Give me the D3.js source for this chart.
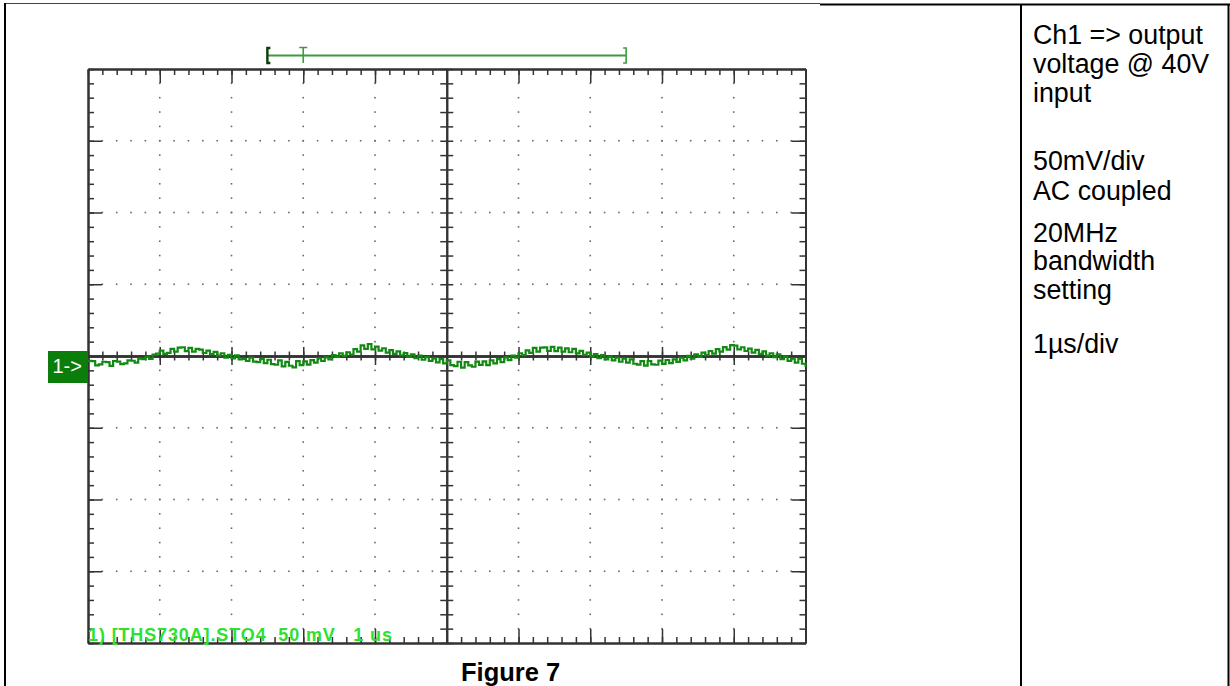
<!DOCTYPE html>
<html>
<head>
<meta charset="utf-8">
<script src="https://cdn.jsdelivr.net/npm/d3@7"></script>
<style>
  html, body { margin: 0; padding: 0; background: #fff; }
  svg { display: block; }
  text { font-family: "Liberation Sans", Arial, sans-serif; }
</style>
</head>
<body>
<svg id="chart" width="1230" height="686"></svg>
<script>
// ---- Data -------------------------------------------------------------
// Channel 1 output ripple, mV (AC coupled), sampled every 0.05 µs over 10 µs
const sampleStepUs = 0.05;
const ch1Millivolts = [
  -3.4,-3.6,-6.5,-5.8,-4.0,-4.3,-6.9,-3.5,-3.9,-5.6,
  -5.2,-3.0,-3.3,-4.6,-1.8,-2.2,-0.6,-2.1,0.9,1.7,
  3.8,1.5,2.2,5.0,3.1,5.9,6.1,3.4,5.6,3.0,
  4.9,4.4,2.1,3.8,1.3,2.9,0.2,1.9,-1.2,0.8,
  -1.7,0.4,-2.4,-2.0,-3.5,-1.1,-3.9,-4.2,-2.0,-5.0,
  -2.6,-5.6,-6.1,-3.0,-7.2,-4.1,-6.8,-7.9,-3.6,-6.3,
  -3.8,-6.0,-2.9,-4.6,-1.6,-3.5,-0.9,-2.3,0.6,-0.7,
  1.9,0.1,2.6,0.9,4.8,3.0,7.4,5.0,8.3,4.6,
  6.6,3.7,5.4,2.4,4.1,1.5,3.2,0.4,2.0,-0.6,
  1.2,-1.5,0.2,-2.6,-0.8,-3.4,-1.6,-4.5,-2.2,-5.1,
  -3.0,-6.4,-7.0,-4.0,-8.1,-4.3,-6.6,-7.5,-3.9,-6.2,
  -3.8,-6.3,-3.0,-5.1,-2.2,-4.3,-1.0,-2.9,0.3,-1.2,
  1.9,0.6,3.9,2.2,5.6,3.1,5.8,6.0,3.5,6.3,
  3.4,5.9,3.0,5.3,2.6,4.9,1.8,3.6,0.8,2.4,
  -0.4,1.3,-1.5,0.6,-2.3,-0.4,-3.1,-1.2,-4.0,-1.8,
  -4.6,-2.4,-5.4,-6.0,-3.6,-6.7,-3.5,-5.9,-6.1,-3.2,
  -5.5,-2.8,-4.9,-2.4,-4.1,-1.1,-3.0,0.1,-1.9,1.1,
  -0.7,2.3,0.6,3.5,1.7,4.8,3.1,6.2,4.4,7.6,
  7.2,4.6,6.1,3.5,5.2,2.4,4.3,1.5,3.2,0.3,
  1.9,-0.8,1.1,-2.2,-0.4,-3.4,-1.8,-4.6,-2.1,-5.4,
  -7.5
];

// Screen settings: 10 horizontal divisions of 1 µs, 8 vertical of 50 mV
const timeDivisions = [0,1,2,3,4,5,6,7,8,9,10];          // µs
const voltDivisions = [-200,-150,-100,-50,0,50,100,150,200]; // mV
const subdivisions = 5;

// Acquisition window bracket and trigger position (µs)
const windowStartUs = 2.5;
const triggerUs = 3.0;
const windowEndUs = 7.5;

const channelMarker = "1->";
const statusLine = "1) [THS730A].STO4  50 mV   1 us";
const caption = "Figure 7";
const notes = [
  ["Ch1 => output", "voltage @ 40V", "input"],
  ["50mV/div", "AC coupled"],
  ["20MHz", "bandwidth", "setting"],
  ["1\u00b5s/div"]
];

// ---- Layout -----------------------------------------------------------
const svg = d3.select("#chart");
const plot = { left: 88, right: 805.5, top: 69, bottom: 643 };
const ink = "#333";

const x = d3.scaleLinear().domain([0, 10]).range([plot.left, plot.right]);
const y = d3.scaleLinear().domain([-200, 200]).range([plot.bottom, plot.top]);

const xStep = 1 / subdivisions;
const yStep = 50 / subdivisions;
const xMinor = d3.range(0, 10 * subdivisions + 1).map(i => i * xStep);
const yMinor = d3.range(0, 8 * subdivisions + 1).map(i => -200 + i * yStep);
const xInner = timeDivisions.slice(1, -1);
const yInner = voltDivisions.slice(1, -1);

// ---- Page frame -------------------------------------------------------
const frame = svg.append("g").attr("stroke", "#000").attr("fill", "none");
frame.append("line").attr("x1", 4).attr("x2", 820).attr("y1", 3.5).attr("y2", 3.5)
  .attr("stroke", "#444").attr("stroke-width", 1);
frame.append("line").attr("x1", 820).attr("x2", 1230).attr("y1", 4.5).attr("y2", 4.5)
  .attr("stroke-width", 2);
frame.append("line").attr("x1", 5).attr("x2", 5).attr("y1", 3).attr("y2", 686)
  .attr("stroke-width", 2);
frame.append("line").attr("x1", 1021).attr("x2", 1021).attr("y1", 4).attr("y2", 686)
  .attr("stroke-width", 2);
frame.append("line").attr("x1", 1228.5).attr("x2", 1228.5).attr("y1", 4).attr("y2", 686)
  .attr("stroke-width", 2);

// ---- Dotted graticule -------------------------------------------------
const dots = svg.append("g").attr("fill", "#6a6a6a");
xInner.filter(t => t !== 5).forEach(t => {
  dots.selectAll(null).data(yMinor.slice(1, -1)).join("rect")
    .attr("x", x(t) - 0.8).attr("y", d => y(d) - 0.8)
    .attr("width", 1.6).attr("height", 1.6);
});
yInner.filter(v => v !== 0).forEach(v => {
  dots.selectAll(null).data(xMinor.slice(1, -1)).join("rect")
    .attr("x", d => x(d) - 0.8).attr("y", y(v) - 0.8)
    .attr("width", 1.6).attr("height", 1.6);
});

// ---- Axes: screen edges and centre cross -----------------------------
function styleAxis(g, domainWidth) {
  g.selectAll(".domain").attr("stroke", ink).attr("stroke-width", domainWidth);
  g.selectAll(".tick line").attr("stroke", ink).attr("stroke-width", 1.5);
  g.selectAll(".tick text").remove();
}
function addAxis(axisFn, scale, values, size, tx, ty, domainWidth) {
  const g = svg.append("g").attr("transform", `translate(${tx},${ty})`)
    .call(axisFn(scale).tickValues(values).tickSize(size).tickSizeOuter(0).tickFormat(""));
  styleAxis(g, domainWidth);
  return g;
}

// edges: minor ticks pointing inward, longer ticks at each division
addAxis(d3.axisBottom, x, xMinor, 6, 0, plot.top, 2);
addAxis(d3.axisBottom, x, xInner, 14, 0, plot.top, 2);
addAxis(d3.axisTop, x, xMinor, 6, 0, plot.bottom, 2);
addAxis(d3.axisTop, x, xInner, 14, 0, plot.bottom, 2);
addAxis(d3.axisRight, y, yMinor, 6, plot.left, 0, 2);
addAxis(d3.axisRight, y, yInner, 14, plot.left, 0, 2);
addAxis(d3.axisLeft, y, yMinor, 6, plot.right, 0, 2);
addAxis(d3.axisLeft, y, yInner, 14, plot.right, 0, 2);

// centre cross: ticks on both sides
addAxis(d3.axisBottom, x, xMinor, 4.5, 0, y(0), 2);
addAxis(d3.axisTop, x, xMinor, 4.5, 0, y(0), 2);
addAxis(d3.axisBottom, x, xInner, 9, 0, y(0), 2);
addAxis(d3.axisTop, x, xInner, 9, 0, y(0), 2);
addAxis(d3.axisRight, y, yMinor, 6.5, x(5), 0, 2);
addAxis(d3.axisLeft, y, yMinor, 6.5, x(5), 0, 2);

// ---- Acquisition window bracket --------------------------------------
const by = 55.5, bh = 7.5;
const bracket = svg.append("g").attr("fill", "none");
bracket.append("line").attr("x1", x(windowStartUs)).attr("x2", x(windowEndUs))
  .attr("y1", by).attr("y2", by).attr("stroke", "#3c9c3c").attr("stroke-width", 2);
bracket.append("path")
  .attr("d", `M${x(windowStartUs) + 3},${by - bh}H${x(windowStartUs)}V${by + bh}H${x(windowStartUs) + 3}`)
  .attr("stroke", "#0d3d0d").attr("stroke-width", 2.4);
bracket.append("path")
  .attr("d", `M${x(windowEndUs) - 3},${by - bh}H${x(windowEndUs)}V${by + bh}H${x(windowEndUs) - 3}`)
  .attr("stroke", "#3c9c3c").attr("stroke-width", 1.6);
bracket.append("path")
  .attr("d", `M${x(triggerUs) - 4},${by - bh - 0.5}H${x(triggerUs) + 4}M${x(triggerUs)},${by - bh - 0.5}V${by + bh}`)
  .attr("stroke", "#3c9c3c").attr("stroke-width", 1.6);

// ---- Channel 1 trace -------------------------------------------------
const trace = d3.line()
  .x((d, i) => x(i * sampleStepUs))
  .y(d => y(d))
  .curve(d3.curveStepAfter);
svg.append("path").datum(ch1Millivolts)
  .attr("d", trace)
  .attr("fill", "none")
  .attr("stroke", "#128a12")
  .attr("stroke-width", 2.2);

// ---- Channel ground marker -------------------------------------------
const marker = svg.append("g");
marker.append("rect").attr("x", 48).attr("y", y(0) - 5)
  .attr("width", plot.left - 48).attr("height", 32).attr("fill", "#0b7d0b");
marker.append("text").attr("x", 52.5).attr("y", y(0) + 16.5)
  .attr("fill", "#fff").attr("font-size", 20).text(channelMarker);

// ---- Status line -----------------------------------------------------
svg.append("text")
  .attr("x", plot.left).attr("y", 641)
  .attr("fill", "#30e030").attr("font-size", 18).attr("font-weight", "bold")
  .attr("textLength", 304).attr("lengthAdjust", "spacing")
  .style("white-space", "pre")
  .text(statusLine);

// ---- Caption ----------------------------------------------------------
svg.append("text").attr("x", 461).attr("y", 681)
  .attr("font-size", 25.5).attr("font-weight", "bold").attr("fill", "#000")
  .text(caption);

// ---- Notes column ----------------------------------------------------
const noteBaselines = [[44, 73, 101.5], [170, 199.5], [241.5, 270, 298.5], [353]];
const notesG = svg.append("g").attr("font-size", 26.8).attr("fill", "#000");
notes.forEach((para, p) => {
  para.forEach((line, l) => {
    notesG.append("text").attr("x", 1033).attr("y", noteBaselines[p][l]).text(line);
  });
});
</script>
</body>
</html>
